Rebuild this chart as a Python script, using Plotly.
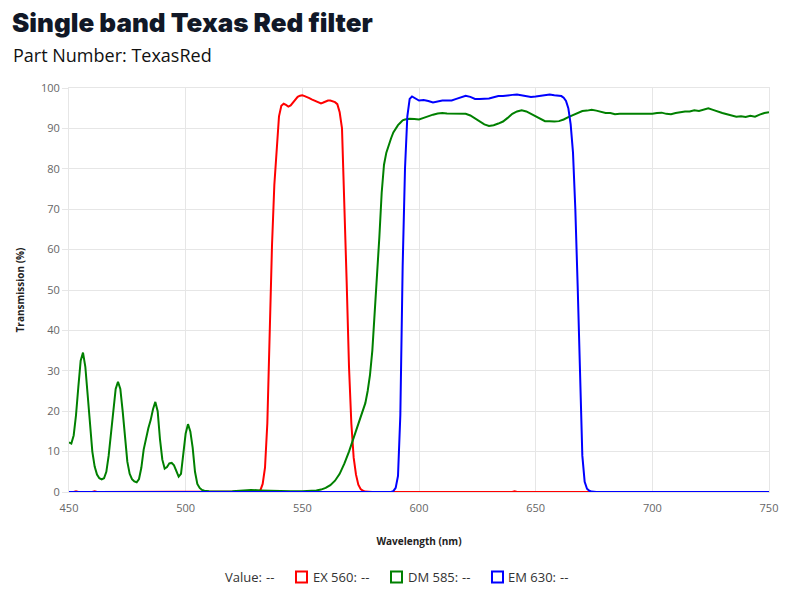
import plotly.graph_objects as go

# ---------------- data ----------------
ex_wl = [450, 452, 453, 454, 460, 461, 462, 480, 500, 525, 530, 531, 532, 533, 534, 535, 536, 537, 538, 539,
         540, 541, 542, 543, 544, 545, 546, 547, 548, 549, 550, 551, 552, 553, 554, 555, 556, 557, 558,
         559, 560, 561, 562, 563, 564, 565, 566, 567, 568, 569, 570, 571, 572, 573, 574, 575, 576, 577,
         580, 600, 640, 641, 642, 700, 750]
ex_val = [0, 0, 0.2, 0, 0, 0.2, 0, 0, 0, 0, 0.1, 0.2, 0.4, 2, 6, 17, 40, 61, 76, 86,
          93, 95.6, 96.1, 95.8, 95.4, 95.7, 96.5, 97.2, 97.8, 98.1, 98.2, 98.0, 97.8, 97.5, 97.2, 96.9, 96.7, 96.4, 96.2,
          96.4, 96.7, 96.9, 96.9, 96.7, 96.5, 96.0, 94, 90, 73, 52, 31, 17, 8.5, 4.3, 1.8, 0.7, 0.3, 0.1,
          0, 0, 0, 0.2, 0, 0, 0]

dm_wl = [450, 451, 452, 453, 454, 455, 456, 457, 458, 459, 460, 461, 462, 463, 464, 465, 466, 467, 468, 469,
         470, 471, 472, 473, 474, 475, 476, 477, 478, 479, 480, 481, 482, 483, 484, 485, 486, 487, 488, 489,
         490, 491, 492, 493, 494, 495, 496, 497, 498, 499, 500, 501, 502, 503, 504, 505, 506, 507, 508, 510,
         515, 520, 524, 528, 532, 536, 540, 545, 550, 554, 556, 558, 560, 562, 564, 566, 568, 570, 572, 574,
         576, 577, 578, 579, 580, 581, 582, 583, 584, 585, 586, 587, 588, 589, 590, 591, 592, 593, 594, 596,
         598, 600, 602, 604, 606, 608, 610, 612, 615, 618, 620, 622, 624, 626, 628, 630, 632, 634, 636, 638,
         640, 642, 644, 646, 648, 650, 652, 654, 656, 658, 660, 662, 664, 666, 668, 670, 672, 674, 676, 678,
         680, 682, 684, 686, 688, 690, 692, 694, 696, 698, 700, 702, 704, 706, 708, 710, 712, 714, 716, 718,
         720, 722, 724, 726, 728, 730, 732, 734, 736, 738, 740, 742, 744, 746, 748, 750]
dm_val = [12.3, 12.0, 14, 19, 26, 32.5, 34.5, 31, 24, 16, 10, 6.3, 4.3, 3.4, 3.1, 3.4, 5, 9, 15, 21,
          25.5, 27.3, 25.5, 20, 13, 7.5, 4.5, 3.2, 2.6, 2.4, 3.2, 6, 10.5, 13.5, 15.8, 17.8, 20.5, 22.3, 20, 13,
          8, 5.8, 6.2, 7.1, 7.2, 6.6, 5, 3.8, 4.5, 9, 14.5, 16.8, 15, 11, 5, 2, 1, 0.5, 0.3, 0.2,
          0.1, 0.2, 0.4, 0.5, 0.4, 0.3, 0.2, 0.2, 0.2, 0.3, 0.4, 0.6, 1.0, 1.7, 2.8, 4.5, 7, 10, 13.5, 16.5,
          20, 22, 25, 29, 35, 44, 52, 63, 74, 81, 84, 86, 87.5, 89, 90, 90.8, 91.4, 92, 92.2, 92.4,
          92.3, 92.2, 92.6, 93.1, 93.4, 93.7, 93.8, 93.7, 93.7, 93.7, 93.6, 93.2, 92.5, 91.7, 91.0, 90.6, 90.8, 91.2, 91.7, 92.6,
          93.6, 94.2, 94.5, 94.2, 93.6, 93.0, 92.2, 91.8, 91.8, 91.7, 91.8, 92.2, 92.8, 93.3, 94.0, 94.3, 94.4, 94.6, 94.4, 94.1,
          93.8, 93.8, 93.5, 93.6, 93.6, 93.5, 93.6, 93.6, 93.6, 93.6, 93.6, 93.8, 93.9, 93.6, 93.5, 93.8, 94.0, 94.2, 94.2, 94.5,
          94.3, 94.7, 95.0, 94.6, 94.1, 93.8, 93.5, 93.2, 92.9, 93.0, 92.8, 93.1, 92.9, 93.4, 93.8, 94.0]

em_wl = [450, 500, 550, 588, 589, 590, 591, 592, 593, 594, 595, 596, 597, 598, 599, 600, 602, 604, 606, 608,
         610, 612, 614, 616, 618, 620, 622, 624, 626, 628, 630, 632, 634, 636, 638, 640, 642, 644, 646, 648,
         650, 652, 654, 656, 658, 660, 661, 662, 663, 664, 665, 666, 667, 668, 669, 670, 671, 672, 673, 674,
         676, 700, 750]
em_val = [0, 0, 0, 0, 0.2, 1, 4, 19, 56, 80, 93, 97.3, 97.9, 97.5, 97.2, 96.9, 97.0, 96.8, 96.4, 96.6,
          96.9, 96.9, 96.9, 97.3, 97.8, 98.1, 97.8, 97.3, 97.3, 97.4, 97.4, 97.7, 98.0, 98.0, 98.2, 98.3, 98.4, 98.2, 98.0, 97.8,
          97.9, 98.1, 98.2, 98.4, 98.2, 98.1, 98.0, 97.6, 96.8, 95, 91, 84, 70, 51, 26, 9, 2.5, 0.8, 0.3, 0.1,
          0, 0, 0]

series_names = ["EX 560", "DM 585", "EM 630"]
series_colors = ["#ff0000", "#008000", "#0000ff"]

title_text = "Single band Texas Red filter"
subtitle_text = "Part Number: TexasRed"
x_title = "Wavelength (nm)"
y_title = "Transmission (%)"

# ---------------- figure ----------------
# the page body has an 8px margin: screen px = figure px + 8
OFF = 8
L, R, T, B = 69 - OFF, 769 - OFF, 88 - OFF, 492 - OFF
PAD = 1  # annotation inner padding

fig = go.Figure()
for wl, val, name, col in zip([ex_wl, dm_wl, em_wl], [ex_val, dm_val, em_val], series_names, series_colors):
    fig.add_trace(go.Scatter(x=wl, y=val, mode="lines", name=name,
                             line=dict(color=col, width=2), showlegend=False))

grid = "#e6e6e6"
tickfont = dict(family="Open Sans, sans-serif", size=11, color="#666666")

fig.update_layout(
    width=800, height=600,
    margin=dict(l=L, r=800 - R, t=T, b=600 - B, autoexpand=False),
    paper_bgcolor="white", plot_bgcolor="white",
    title=dict(text=title_text, x=(12 - OFF) / 800, xanchor="left", xref="container",
               y=1 - (23 - OFF) / 600, yanchor="middle", yref="container",
               font=dict(family="Inter, sans-serif", size=26, color="#111827", weight=900)),
    xaxis=dict(range=[450, 750], dtick=50, tick0=450, showgrid=True, gridcolor=grid,
               zeroline=False, showline=True, linecolor=grid, mirror=True,
               ticks="outside", ticklen=6, tickcolor="rgba(0,0,0,0)", tickfont=tickfont, automargin=False,
               title=dict(text="<b>" + x_title + "</b>", standoff=23,
                          font=dict(family="Open Sans, sans-serif", size=10, color="#222222"))),
    yaxis=dict(range=[0, 100], dtick=10, showgrid=True, gridcolor=grid,
               zeroline=False, showline=True, linecolor=grid, mirror=True,
               ticks="outside", ticklen=6, tickcolor=grid, tickfont=tickfont, automargin=False,
               title=dict(text="<b>" + y_title + "</b>", standoff=14,
                          font=dict(family="Open Sans, sans-serif", size=10, color="#222222"))),
    hovermode=False,
)

def px_x(px):
    return (px - OFF - L) / (R - L)

def px_y(py):
    return (B - (py - OFF)) / (B - T)

fig.add_annotation(text=subtitle_text, xref="paper", yref="paper", x=px_x(12 - PAD), y=px_y(55),
                   xanchor="left", yanchor="middle", showarrow=False,
                   font=dict(family="Open Sans, sans-serif", size=18, color="#111111"))

# custom legend
leg_y = px_y(577)
legend_font = dict(family="Open Sans, sans-serif", size=13, color="#333333")
fig.add_annotation(text="Value:", xref="paper", yref="paper", x=px_x(224 - PAD), y=leg_y,
                   xanchor="left", yanchor="middle", showarrow=False, font=legend_font)
fig.add_annotation(text="--", xref="paper", yref="paper", x=px_x(265 - PAD), y=leg_y,
                   xanchor="left", yanchor="middle", showarrow=False, font=legend_font)
box_left = [296, 391, 492]
text_left = [312, 407, 507]
dash_left = [360, 461, 559]
for name, col, bl, tl, dl in zip(series_names, series_colors, box_left, text_left, dash_left):
    fig.add_shape(type="rect", xref="paper", yref="paper",
                  x0=px_x(bl), x1=px_x(bl + 11), y0=px_y(571.5), y1=px_y(582.5),
                  line=dict(color=col, width=2), fillcolor="white")
    fig.add_annotation(text=name + ":", xref="paper", yref="paper", x=px_x(tl - PAD), y=leg_y,
                       xanchor="left", yanchor="middle", showarrow=False, font=legend_font)
    fig.add_annotation(text="--", xref="paper", yref="paper", x=px_x(dl - PAD), y=leg_y,
                       xanchor="left", yanchor="middle", showarrow=False, font=legend_font)

fig.write_html("out.html")
